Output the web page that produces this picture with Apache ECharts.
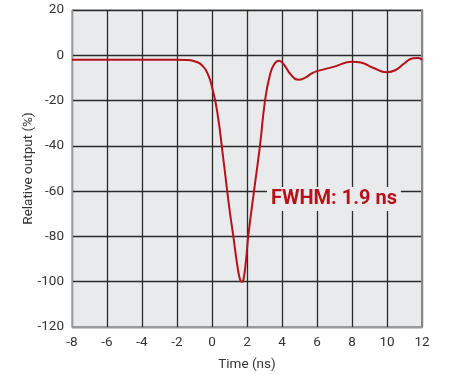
<!DOCTYPE html>
<html>
<head>
<meta charset="utf-8">
<script src="https://cdn.jsdelivr.net/npm/echarts@6/dist/echarts.min.js"></script>
<style>html,body{margin:0;padding:0;background:#fff}#c{width:449px;height:374px}</style>
</head>
<body>
<div id="c"></div>
<script>
const timeNs = [-8,-2,-1.5,-1,-0.5,-0.2,0,0.3,0.65,1.0,1.22,1.45,1.6,1.7,1.8,1.95,2.07,2.4,2.74,3.03,3.3,3.55,3.83,4.1,4.5,4.93,5.3,5.7,6.0,7.0,8.0,8.5,9.2,10.0,10.5,11.0,11.5,11.8,12.0];
const relOutput = [-2,-2,-2.05,-2.6,-5,-9,-14,-25,-46,-68,-80,-93,-99,-100,-99,-90,-80,-60,-40,-20,-9,-4,-2.4,-4,-8.5,-10.8,-10,-8,-7,-5,-2.8,-3.2,-5.5,-7.5,-6.5,-3.5,-1.3,-1.2,-2.1];
const xTicks = [-8,-6,-4,-2,0,2,4,6,8,10,12];
const yTicks = [-120,-100,-80,-60,-40,-20,0,20];
const annotation = 'FWHM: 1.9 ns';

const chart = echarts.init(document.getElementById('c'));
const font = 'Roboto';
chart.setOption({
  animation: false,
  backgroundColor: '#fff',
  grid: {left: 72, right: 27, top: 10, bottom: 47, outerBoundsMode: 'none', containLabel: false, show: true, backgroundColor: '#e9eaec', borderColor: '#999', borderWidth: 1},
  xAxis: {
    type: 'value', min: xTicks[0], max: xTicks[xTicks.length-1], interval: 2,
    name: 'Time (ns)', nameLocation: 'middle', nameGap: 31,
    nameTextStyle: {fontFamily: font, fontSize: 13.5, color: '#333'},
    axisLine: {show: true, onZero: false, lineStyle: {color: '#999', width: 1}},
    axisTick: {show: false},
    axisLabel: {fontFamily: font, fontSize: 13.5, color: '#333', margin: 9},
    splitLine: {show: true, lineStyle: {color: '#2a2a2a', width: 1.3}}
  },
  yAxis: [{
    type: 'value', min: yTicks[0], max: yTicks[yTicks.length-1], interval: 20,
    name: 'Relative output (%)', nameLocation: 'middle', nameGap: 36, nameMoveOverlap: false,
    nameTextStyle: {fontFamily: font, fontSize: 13.5, color: '#333'},
    axisLine: {show: true, onZero: false, lineStyle: {color: '#999', width: 1}},
    axisTick: {show: false},
    axisLabel: {fontFamily: font, fontSize: 13.5, color: '#333', margin: 8},
    splitLine: {show: true, lineStyle: {color: '#2a2a2a', width: 1.3}}
  }, {
    type: 'value', position: 'right', min: yTicks[0], max: yTicks[yTicks.length-1], interval: 20,
    axisLine: {show: true, onZero: false, lineStyle: {color: '#888', width: 2}},
    axisTick: {show: false}, axisLabel: {show: false}, splitLine: {show: false}
  }],
  series: [{
    type: 'line', smooth: 0.5, symbol: 'none',
    data: timeNs.map((t, i) => [t, relOutput[i]]),
    lineStyle: {color: '#b5121b', width: 2},
    markPoint: {
      symbol: 'rect', symbolSize: 0,
      data: [{coord: [6.97, -63.5]}],
      label: {
        show: true, formatter: annotation, position: 'inside',
        fontFamily: font, fontSize: 20, fontWeight: 'bold', color: '#b5121b',
        backgroundColor: '#e9eaec', padding: [2, 4]
      }
    }
  }]
});
</script>
</body>
</html>
